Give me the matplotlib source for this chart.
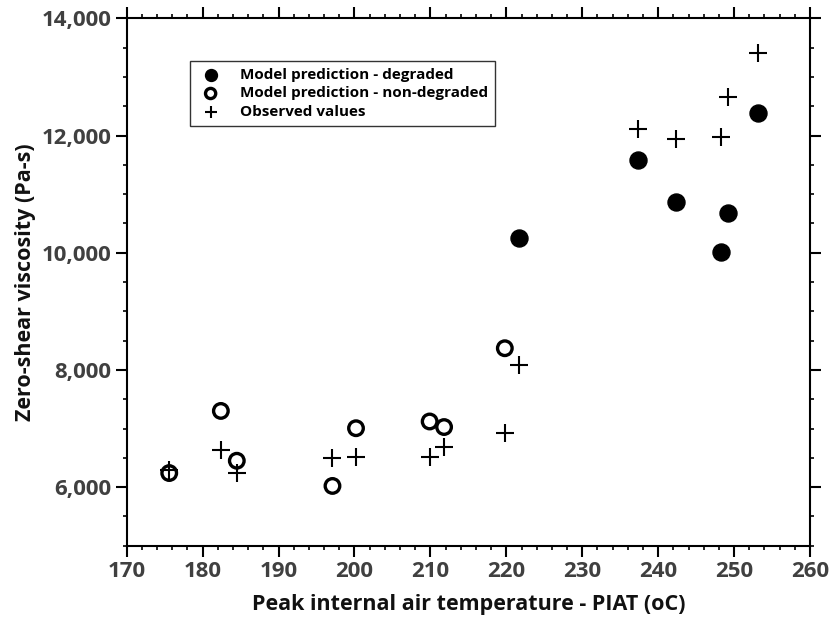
import matplotlib
matplotlib.use("Agg")
import matplotlib.pyplot as plt
from matplotlib.ticker import MultipleLocator, FuncFormatter

plt.rcParams['font.family'] = ['Open Sans', 'DejaVu Sans']

# Model prediction - degraded
deg_x = [221.7, 237.4, 242.4, 248.3, 249.2, 253.2]
deg_y = [10250, 11580, 10860, 10010, 10670, 12380]

# Model prediction - non-degraded
nondeg_x = [175.6, 182.4, 184.5, 197.1, 200.2, 209.9, 211.8, 219.8]
nondeg_y = [6240, 7300, 6450, 6020, 7005, 7120, 7025, 8370]

# Observed values
obs_x = [175.6, 182.4, 184.5, 197.1, 200.2, 209.9, 211.8, 219.8,
         221.7, 237.4, 242.4, 248.3, 249.2, 253.2]
obs_y = [6300, 6635, 6245, 6495, 6520, 6510, 6690, 6920,
         8085, 12110, 11940, 11980, 12650, 13400]

xticks = [170, 180, 190, 200, 210, 220, 230, 240, 250, 260]
yticks = [6000, 8000, 10000, 12000, 14000]

fig = plt.figure(figsize=(8.32, 6.19), dpi=100)
ax = fig.add_axes([0.1523, 0.1184, 0.9736 - 0.1523, 0.9704 - 0.1184])

ax.scatter(deg_x, deg_y, s=150, color='black', marker='o', zorder=3,
           label='Model prediction - degraded')
ax.scatter(nondeg_x, nondeg_y, s=110, facecolors='none', edgecolors='black',
           linewidths=2.4, marker='o', zorder=3,
           label='Model prediction - non-degraded')
ax.scatter(obs_x, obs_y, s=170, color='black', marker='+', linewidths=1.5,
           zorder=4, label='Observed values')

ax.set_xlim(170, 260)
ax.set_ylim(5000, 14000)
ax.set_xticks(xticks)
ax.set_yticks(yticks)
ax.xaxis.set_minor_locator(MultipleLocator(2))
ax.yaxis.set_minor_locator(MultipleLocator(500))
ax.yaxis.set_major_formatter(FuncFormatter(lambda v, p: f"{int(v):,}"))

ax.tick_params(which='both', direction='out', top=True, right=True,
               color='black', width=1.5)
ax.tick_params(which='major', length=8, labelsize=16, labelcolor='#404040',
               pad=3)
ax.tick_params(which='minor', length=3, width=1.2)
for lab in ax.get_xticklabels() + ax.get_yticklabels():
    lab.set_fontweight('bold')
for sp in ax.spines.values():
    sp.set_linewidth(1.5)
    sp.set_color('black')

ax.set_xlabel('Peak internal air temperature - PIAT (oC)', fontsize=15.5,
              fontweight='bold', color='#111111', labelpad=9)
ax.set_ylabel('Zero-shear viscosity (Pa-s)', fontsize=15.5,
              fontweight='bold', color='#111111', labelpad=4)

leg = ax.legend(loc='upper left', bbox_to_anchor=(0.0926, 0.919),
                frameon=True, fancybox=False, edgecolor='black',
                prop={'size': 11, 'weight': 'bold'}, borderpad=0.45,
                labelspacing=0.3, handletextpad=1.0, handlelength=1.8,
                markerscale=0.7, borderaxespad=0)
leg.get_frame().set_linewidth(1.0)

fig.savefig('out.png', dpi=100)
